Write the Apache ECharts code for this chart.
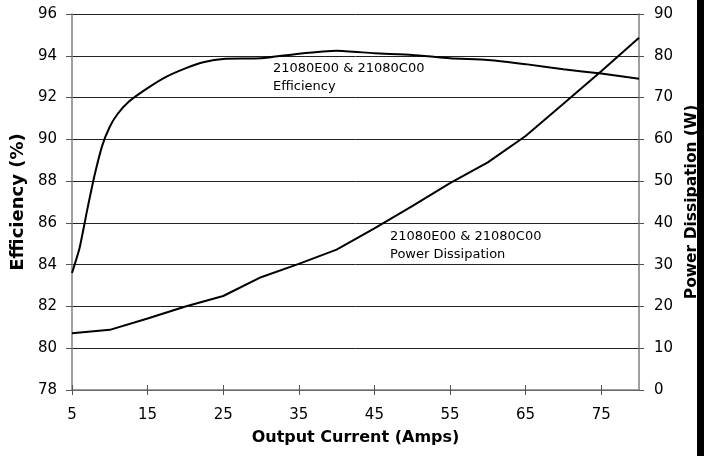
<!DOCTYPE html>
<html>
<head>
<meta charset="utf-8">
<style>
  html, body { margin: 0; padding: 0; background: #fff; }
  #chart { width: 708px; height: 456px; }
</style>
<script src="https://cdn.jsdelivr.net/npm/echarts@6/dist/echarts.min.js"></script>
</head>
<body>
<div id="chart"></div>
<script>
// x tick labels (Amps)
const currentTicks = [5, 15, 25, 35, 45, 55, 65, 75]
// efficiency curve
const effCurrent = [5, 6, 7, 8, 9, 10, 11, 12.5, 15, 17.5, 20, 22.5, 25, 30, 35, 40, 45, 50, 55, 60, 65, 70, 75, 80]
const effValues = [83.6, 84.8, 86.6, 88.3, 89.7, 90.6, 91.2, 91.8, 92.45, 93.0, 93.4, 93.7, 93.85, 93.88, 94.1, 94.24, 94.12, 94.04, 93.88, 93.8, 93.6, 93.35, 93.15, 92.9]
// power dissipation curve (W)
const powerCurrent = [5, 10, 15, 20, 25, 30, 35, 40, 45, 50, 55, 60, 65, 70, 75, 80]
const powerValues = [13.6, 14.4, 17.1, 20.0, 22.5, 27.0, 30.2, 33.6, 38.7, 44.0, 49.5, 54.5, 60.8, 68.5, 76.3, 84.3]

const FONT = 'DejaVu Sans'
const chart = echarts.init(document.getElementById('chart'))

const pair = (xs, ys) => xs.map((x, i) => [x, ys[i]])

const option = {
  backgroundColor: '#fff',
  animation: false,
  textStyle: { fontFamily: FONT },
  grid: { left: 72, right: 68, top: 14, bottom: 66, containLabel: false },
  xAxis: [
    {
      type: 'value',
      min: 5,
      max: 80,
      name: 'Output Current (Amps)',
      nameLocation: 'middle',
      nameGap: 40,
      nameTextStyle: { fontFamily: FONT, fontSize: 16, fontWeight: 'bold', color: '#000' },
      axisLine: { show: true, onZero: false, lineStyle: { color: '#808080', width: 1.5 } },
      axisTick: { show: true, inside: false, length: 5, lineStyle: { color: '#555' }, customValues: currentTicks },
      axisLabel: { margin: 18, fontFamily: FONT, fontSize: 15, color: '#000', customValues: currentTicks },
      splitLine: { show: false }
    },
    {
      // only the inner half of the crossing ticks
      type: 'value',
      min: 5,
      max: 80,
      position: 'bottom',
      axisLine: { show: false },
      axisTick: { show: true, inside: true, length: 5, lineStyle: { color: '#555' }, customValues: currentTicks },
      axisLabel: { show: false },
      splitLine: { show: false }
    }
  ],
  yAxis: [
    {
      type: 'value',
      min: 78,
      max: 96,
      interval: 2,
      name: 'Efficiency (%)',
      nameLocation: 'middle',
      nameRotate: 90,
      nameGap: 44,
      nameTextStyle: { fontFamily: FONT, fontSize: 18, fontWeight: 'bold', color: '#000' },
      axisLine: { show: true, onZero: false, lineStyle: { color: '#808080', width: 1.5 } },
      axisTick: { show: true, length: 6, lineStyle: { color: '#555' } },
      axisLabel: { margin: 15, fontFamily: FONT, fontSize: 15, color: '#000' },
      splitLine: { show: true, lineStyle: { color: '#222', width: 1 } }
    },
    {
      type: 'value',
      min: 0,
      max: 90,
      interval: 10,
      position: 'right',
      name: 'Power Dissipation (W)',
      nameLocation: 'middle',
      nameRotate: 90,
      nameGap: 37,
      nameTextStyle: { fontFamily: FONT, fontSize: 15.5, fontWeight: 'bold', color: '#000' },
      axisLine: { show: true, onZero: false, lineStyle: { color: '#808080', width: 1.5 } },
      axisTick: { show: true, length: 5, lineStyle: { color: '#555' } },
      axisLabel: { margin: 15, fontFamily: FONT, fontSize: 15, color: '#000' },
      splitLine: { show: false }
    }
  ],
  graphic: [
    // black bar on the right edge of the page
    { type: 'rect', left: 697, top: 0, shape: { width: 7, height: 456 }, style: { fill: '#000' } },
    {
      type: 'text', left: 273, top: 60,
      style: { text: '21080E00 & 21080C00\nEfficiency', font: '13px "DejaVu Sans"', fill: '#000', lineHeight: 18 }
    },
    {
      type: 'text', left: 390, top: 228,
      style: { text: '21080E00 & 21080C00\nPower Dissipation', font: '13px "DejaVu Sans"', fill: '#000', lineHeight: 18 }
    }
  ],
  series: [
    {
      name: 'Efficiency',
      type: 'line',
      xAxisIndex: 0,
      yAxisIndex: 0,
      data: pair(effCurrent, effValues),
      showSymbol: false,
      smooth: 0.2,
      lineStyle: { color: '#000', width: 2 },
      silent: true
    },
    {
      name: 'Power Dissipation',
      type: 'line',
      xAxisIndex: 0,
      yAxisIndex: 1,
      data: pair(powerCurrent, powerValues),
      showSymbol: false,
      smooth: false,
      lineStyle: { color: '#000', width: 2 },
      silent: true
    }
  ]
}

chart.setOption(option)
</script>
</body>
</html>
